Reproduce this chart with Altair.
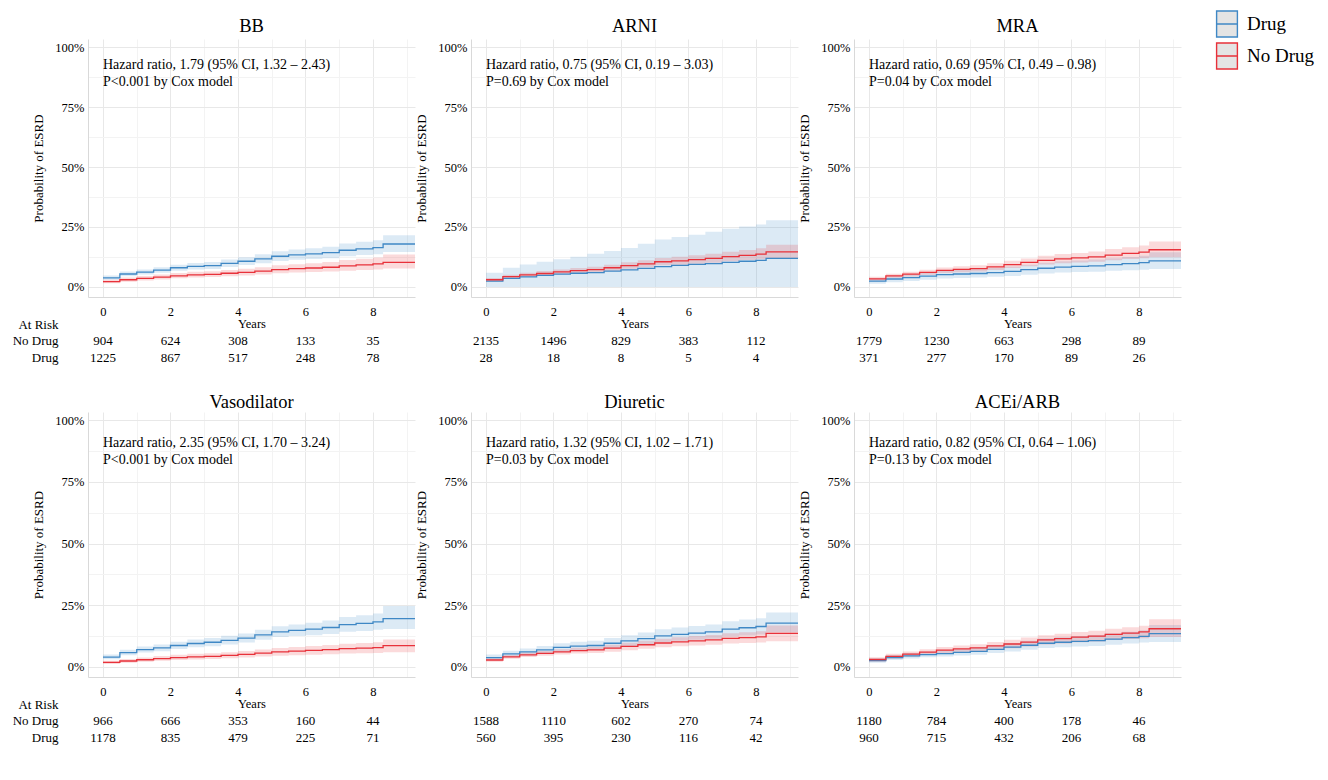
import altair as alt
import pandas as pd

FONT = "Liberation Serif"

# ---------------- data (cumulative probability of ESRD, in %) ----------------
T = [0, 0.5, 1, 1.5, 2, 2.5, 3, 3.5, 4, 4.5, 5, 5.5, 6, 6.5, 7, 7.5, 8, 8.3, 9.245]
GROUPS = ["Drug", "No Drug"]
COLORS = ["#3f88c5", "#e8313a"]
RISK_YEARS = [0, 2, 4, 6, 8]

# BB
bb_drug_est = [3.8, 5.4, 6.2, 7.0, 8.0, 8.6, 8.9, 9.8, 10.7, 11.7, 12.8, 13.4, 13.8, 14.3, 15.3, 15.9, 16.4, 17.9, 17.9]
bb_drug_lo = [3.0, 4.5, 5.2, 5.9, 6.8, 7.3, 7.5, 8.3, 9.1, 9.9, 10.8, 11.3, 11.6, 12.0, 12.8, 13.3, 13.6, 14.6, 14.6]
bb_drug_hi = [4.8, 6.4, 7.3, 8.2, 9.3, 10.0, 10.4, 11.4, 12.4, 13.6, 14.9, 15.6, 16.1, 16.8, 18.1, 18.8, 19.5, 21.6, 21.6]
bb_nod_est = [2.2, 3.0, 3.6, 4.1, 4.6, 5.0, 5.2, 5.7, 6.1, 6.6, 7.2, 7.6, 7.9, 8.2, 8.8, 9.2, 9.6, 10.2, 10.2]
bb_nod_lo = [1.5, 2.2, 2.7, 3.1, 3.6, 3.9, 4.1, 4.5, 4.8, 5.2, 5.7, 6.0, 6.2, 6.4, 6.8, 7.1, 7.3, 7.7, 7.7]
bb_nod_hi = [3.0, 3.9, 4.6, 5.2, 5.8, 6.3, 6.5, 7.1, 7.6, 8.2, 9.0, 9.5, 9.9, 10.4, 11.2, 11.8, 12.3, 13.5, 13.5]
bb_risk_nod = [904, 624, 308, 133, 35]
bb_risk_drug = [1225, 867, 517, 248, 78]

# ARNI
arni_drug_est = [2.4, 3.6, 4.2, 4.8, 5.3, 5.7, 6.0, 6.6, 7.1, 7.7, 8.5, 9.0, 9.4, 9.7, 10.2, 10.7, 11.1, 11.9, 11.9]
arni_drug_lo = [0.0, 0.0, 0.0, 0.0, 0.0, 0.0, 0.0, 0.0, 0.0, 0.0, 0.0, 0.0, 0.0, 0.0, 0.0, 0.0, 0.0, 0.0, 0.0]
arni_drug_hi = [5.9, 8.0, 9.4, 10.5, 11.5, 12.6, 13.8, 15.0, 16.2, 18.0, 19.8, 20.8, 21.8, 23.0, 24.3, 25.2, 26.0, 27.8, 27.8]
arni_nod_est = [3.0, 4.3, 5.0, 5.6, 6.3, 6.8, 7.2, 8.0, 8.9, 9.6, 10.5, 10.9, 11.4, 11.9, 12.6, 13.2, 13.7, 14.6, 14.6]
arni_nod_lo = [2.3, 3.5, 4.1, 4.7, 5.3, 5.7, 6.1, 6.8, 7.6, 8.2, 9.0, 9.3, 9.7, 10.1, 10.7, 11.2, 11.5, 12.0, 12.0]
arni_nod_hi = [3.7, 5.1, 5.9, 6.6, 7.3, 7.9, 8.4, 9.3, 10.3, 11.1, 12.1, 12.6, 13.2, 13.8, 14.7, 15.4, 16.1, 17.6, 17.6]
arni_risk_nod = [2135, 1496, 829, 383, 112]
arni_risk_drug = [28, 18, 8, 5, 4]

# MRA
mra_drug_est = [2.4, 3.3, 3.9, 4.5, 5.1, 5.4, 5.6, 6.0, 6.5, 7.2, 7.8, 8.3, 8.6, 8.8, 9.3, 9.7, 10.1, 10.9, 10.9]
mra_drug_lo = [1.3, 2.0, 2.5, 3.0, 3.5, 3.7, 3.9, 4.2, 4.6, 5.1, 5.6, 6.0, 6.2, 6.3, 6.7, 7.0, 7.2, 7.5, 7.5]
mra_drug_hi = [3.5, 4.6, 5.3, 6.0, 6.7, 7.1, 7.4, 7.9, 8.5, 9.3, 10.1, 10.7, 11.0, 11.4, 12.0, 12.5, 13.0, 14.5, 14.5]
mra_nod_est = [3.4, 4.6, 5.3, 6.1, 6.9, 7.3, 7.6, 8.4, 9.3, 10.2, 11.1, 11.7, 12.1, 12.5, 13.3, 14.0, 14.5, 15.5, 15.5]
mra_nod_lo = [2.7, 3.8, 4.4, 5.1, 5.8, 6.1, 6.4, 7.1, 7.9, 8.6, 9.4, 9.9, 10.2, 10.5, 11.1, 11.7, 12.0, 12.4, 12.4]
mra_nod_hi = [4.2, 5.5, 6.3, 7.2, 8.1, 8.6, 9.0, 9.9, 10.9, 11.9, 13.0, 13.7, 14.2, 14.8, 15.8, 16.6, 17.3, 18.9, 18.9]
mra_risk_nod = [1779, 1230, 663, 298, 89]
mra_risk_drug = [371, 277, 170, 89, 26]

# Vasodilator
vaso_drug_est = [3.9, 5.7, 6.9, 7.6, 8.6, 9.4, 9.9, 10.7, 11.6, 12.9, 14.1, 14.7, 15.2, 15.9, 17.1, 17.6, 18.2, 19.5, 19.5]
vaso_drug_lo = [3.0, 4.6, 5.7, 6.3, 7.2, 7.9, 8.3, 9.0, 9.8, 10.9, 12.0, 12.4, 12.8, 13.3, 14.2, 14.5, 15.0, 15.3, 15.3]
vaso_drug_hi = [4.9, 6.9, 8.2, 9.0, 10.1, 11.0, 11.6, 12.5, 13.5, 15.0, 16.4, 17.1, 17.8, 18.7, 20.2, 20.9, 21.6, 24.6, 24.6]
vaso_nod_est = [1.7, 2.3, 2.8, 3.3, 3.7, 4.0, 4.2, 4.6, 5.0, 5.5, 6.0, 6.3, 6.6, 6.9, 7.3, 7.5, 7.7, 8.5, 8.5]
vaso_nod_lo = [1.1, 1.6, 2.0, 2.4, 2.7, 2.9, 3.1, 3.4, 3.7, 4.1, 4.4, 4.6, 4.8, 5.0, 5.3, 5.4, 5.5, 5.9, 5.9]
vaso_nod_hi = [2.4, 3.1, 3.7, 4.3, 4.8, 5.2, 5.4, 5.9, 6.4, 7.0, 7.6, 8.0, 8.4, 8.8, 9.3, 9.6, 9.9, 11.0, 11.0]
vaso_risk_nod = [966, 666, 353, 160, 44]
vaso_risk_drug = [1178, 835, 479, 225, 71]

# Diuretic
diur_drug_est = [3.7, 5.2, 6.0, 6.8, 7.8, 8.3, 8.6, 9.5, 10.5, 11.4, 12.5, 13.1, 13.6, 14.1, 15.2, 15.8, 16.3, 17.7, 17.7]
diur_drug_lo = [2.6, 3.9, 4.6, 5.3, 6.1, 6.5, 6.8, 7.5, 8.3, 9.1, 10.0, 10.5, 10.9, 11.3, 12.2, 12.7, 13.1, 14.0, 14.0]
diur_drug_hi = [4.9, 6.5, 7.4, 8.4, 9.5, 10.1, 10.5, 11.6, 12.8, 13.9, 15.2, 15.9, 16.5, 17.1, 18.4, 19.1, 19.7, 22.0, 22.0]
diur_nod_est = [2.7, 4.0, 4.8, 5.4, 6.0, 6.5, 6.8, 7.5, 8.2, 8.9, 9.6, 10.1, 10.5, 10.9, 11.5, 11.8, 12.1, 13.5, 13.5]
diur_nod_lo = [2.0, 3.2, 3.9, 4.4, 4.9, 5.3, 5.5, 6.1, 6.7, 7.3, 7.9, 8.3, 8.6, 8.9, 9.4, 9.6, 9.8, 10.3, 10.3]
diur_nod_hi = [3.4, 4.8, 5.7, 6.4, 7.1, 7.7, 8.1, 8.9, 9.7, 10.5, 11.3, 11.9, 12.4, 12.9, 13.6, 14.0, 14.4, 16.7, 16.7]
diur_risk_nod = [1588, 1110, 602, 270, 74]
diur_risk_drug = [560, 395, 230, 116, 42]

# ACEi/ARB
acei_drug_est = [2.5, 3.7, 4.4, 4.9, 5.3, 5.8, 6.2, 7.0, 7.9, 8.7, 9.5, 9.9, 10.3, 10.6, 11.2, 11.8, 12.3, 13.4, 13.4]
acei_drug_lo = [1.6, 2.7, 3.3, 3.8, 4.1, 4.5, 4.8, 5.5, 6.2, 6.9, 7.6, 7.9, 8.2, 8.4, 8.9, 9.4, 9.8, 10.0, 10.0]
acei_drug_hi = [3.4, 4.7, 5.5, 6.1, 6.6, 7.2, 7.7, 8.6, 9.6, 10.5, 11.4, 11.9, 12.4, 12.8, 13.5, 14.2, 14.8, 16.9, 16.9]
acei_nod_est = [2.9, 4.2, 5.1, 5.9, 6.7, 7.2, 7.6, 8.4, 9.2, 10.0, 10.9, 11.4, 12.0, 12.4, 13.1, 13.6, 14.1, 15.4, 15.4]
acei_nod_lo = [2.0, 3.2, 4.0, 4.7, 5.4, 5.8, 6.2, 6.8, 7.5, 8.2, 9.0, 9.4, 9.9, 10.2, 10.8, 11.2, 11.5, 12.0, 12.0]
acei_nod_hi = [3.8, 5.2, 6.2, 7.1, 8.0, 8.6, 9.1, 10.0, 10.9, 11.8, 12.8, 13.4, 14.1, 14.6, 15.4, 16.0, 16.6, 19.2, 19.2]
acei_risk_nod = [1180, 784, 400, 178, 46]
acei_risk_drug = [960, 715, 432, 206, 68]

PANELS = [
    dict(name="BB", drug=(bb_drug_est, bb_drug_lo, bb_drug_hi), nod=(bb_nod_est, bb_nod_lo, bb_nod_hi),
         risk=(bb_risk_nod, bb_risk_drug),
         text=["Hazard ratio, 1.79 (95% CI, 1.32 \u2013 2.43)", "P<0.001 by Cox model"]),
    dict(name="ARNI", drug=(arni_drug_est, arni_drug_lo, arni_drug_hi), nod=(arni_nod_est, arni_nod_lo, arni_nod_hi),
         risk=(arni_risk_nod, arni_risk_drug),
         text=["Hazard ratio, 0.75 (95% CI, 0.19 \u2013 3.03)", "P=0.69 by Cox model"]),
    dict(name="MRA", drug=(mra_drug_est, mra_drug_lo, mra_drug_hi), nod=(mra_nod_est, mra_nod_lo, mra_nod_hi),
         risk=(mra_risk_nod, mra_risk_drug),
         text=["Hazard ratio, 0.69 (95% CI, 0.49 \u2013 0.98)", "P=0.04 by Cox model"]),
    dict(name="Vasodilator", drug=(vaso_drug_est, vaso_drug_lo, vaso_drug_hi), nod=(vaso_nod_est, vaso_nod_lo, vaso_nod_hi),
         risk=(vaso_risk_nod, vaso_risk_drug),
         text=["Hazard ratio, 2.35 (95% CI, 1.70 \u2013 3.24)", "P<0.001 by Cox model"]),
    dict(name="Diuretic", drug=(diur_drug_est, diur_drug_lo, diur_drug_hi), nod=(diur_nod_est, diur_nod_lo, diur_nod_hi),
         risk=(diur_risk_nod, diur_risk_drug),
         text=["Hazard ratio, 1.32 (95% CI, 1.02 \u2013 1.71)", "P=0.03 by Cox model"]),
    dict(name="ACEi/ARB", drug=(acei_drug_est, acei_drug_lo, acei_drug_hi), nod=(acei_nod_est, acei_nod_lo, acei_nod_hi),
         risk=(acei_risk_nod, acei_risk_drug),
         text=["Hazard ratio, 0.82 (95% CI, 0.64 \u2013 1.06)", "P=0.13 by Cox model"]),
]

TEXT_Y = [[0.925, 0.854], [0.910, 0.838]]
TITLE_OFFSET = [4, 1]

# ---------------- layout ----------------
W = 327
ROW_H = [258, 265]
XDOM = [-0.444, 9.245]
YDOM = [-0.042, 1.034]

cscale = alt.Scale(domain=GROUPS, range=COLORS)
legend = alt.Legend(
    title=None, orient="none", legendX=1125, legendY=-29,
    symbolType="M-0.8,-1H0.8V1H-0.8Z M-0.8,0H0.8", symbolSize=676,
    symbolFillColor="#e4e4e4", symbolStrokeWidth=1.4, symbolOpacity=1,
    labelFont=FONT, labelFontSize=19, labelColor="black", labelOffset=6,
    rowPadding=0,
)

xaxis = alt.Axis(
    values=list(range(10)), format="d",
    labelExpr="datum.value % 2 === 0 ? datum.label : ''",
    title="Years", labelFontSize=12.5, titleFontSize=12.5, labelPadding=8, titlePadding=0,
    ticks=False, domainColor="#d9d9d9",
    gridColor=alt.ConditionalAxisColor(condition={"test": "datum.value % 2 === 0", "value": "#e8e8e8"}, value="#f3f3f3"),
)
yaxis = alt.Axis(
    values=[i / 8 for i in range(9)], format=".0%",
    labelExpr="(datum.value * 4) % 1 === 0 ? datum.label : ''",
    title="Probability of ESRD", labelFontSize=12.5, titleFontSize=13, labelPadding=4, titlePadding=9,
    ticks=False, domainColor="#d9d9d9",
    gridColor=alt.ConditionalAxisColor(condition={"test": "(datum.value * 4) % 1 === 0", "value": "#e8e8e8"}, value="#f3f3f3"),
)


def km_frame(p):
    rows = []
    for g, (est, lo, hi) in zip(GROUPS, [p["drug"], p["nod"]]):
        for t, e, l, h in zip(T, est, lo, hi):
            rows.append({"t": t, "group": g, "est": e / 100, "lo": l / 100, "hi": h / 100})
    return pd.DataFrame(rows)


def panel(p, row, first_col):
    df = km_frame(p)
    xs = alt.Scale(domain=XDOM, nice=False, zero=False)
    ys = alt.Scale(domain=YDOM, nice=False, zero=False)
    base = alt.Chart(df)
    bands = [
        base.transform_filter(alt.datum.group == g).mark_area(
            interpolate="step-after", fillOpacity=0.18, clip=True, color=c
        ).encode(
            x=alt.X("t:Q", scale=xs, axis=xaxis),
            y=alt.Y("lo:Q", scale=ys, axis=yaxis),
            y2="hi:Q",
        )
        for g, c in zip(GROUPS, COLORS)
    ]
    line = base.mark_line(interpolate="step-after", strokeWidth=1.3, clip=True).encode(
        x=alt.X("t:Q", scale=xs, axis=xaxis),
        y=alt.Y("est:Q", scale=ys, axis=yaxis),
        color=alt.Color("group:N", scale=cscale, legend=legend),
    )
    ann = pd.DataFrame({"t": [0, 0], "y": TEXT_Y[row], "label": p["text"]})
    text = alt.Chart(ann).mark_text(align="left", baseline="middle", fontSize=14, font=FONT, color="black").encode(
        x=alt.X("t:Q", scale=xs, axis=xaxis),
        y=alt.Y("y:Q", scale=ys, axis=yaxis),
        text="label:N",
    )
    km = alt.layer(*bands, line, text).properties(
        width=W, height=ROW_H[row],
        title=alt.TitleParams(p["name"], font=FONT, fontSize=18.5, fontWeight=400, color="black",
                              anchor="middle", offset=TITLE_OFFSET[row]),
    )

    nod, drug = p["risk"]
    rt = pd.DataFrame({"t": RISK_YEARS * 2, "grp": ["No Drug"] * 5 + ["Drug"] * 5, "n": nod + drug})
    if first_col:
        raxis = alt.Axis(
            title="At Risk", titleAngle=0, titleAlign="right", titleBaseline="middle",
            titleX=-30, titleY=-8, titleFontSize=13, titleFontWeight="normal",
            labelFontSize=13, labelPadding=30, ticks=False, domain=False, grid=False,
        )
    else:
        raxis = None
    table = alt.Chart(rt).mark_text(fontSize=13, font=FONT, color="black").encode(
        x=alt.X("t:Q", scale=alt.Scale(domain=XDOM, nice=False, zero=False), axis=None),
        y=alt.Y("grp:N", scale=alt.Scale(type="point", domain=["No Drug", "Drug"], padding=0.5), axis=raxis),
        text=alt.Text("n:Q", format="d"),
    ).properties(width=W, height=34)
    return alt.vconcat(km, table, spacing=35, bounds="flush")


row1 = alt.hconcat(*[panel(PANELS[i], 0, i == 0) for i in range(3)], spacing=0)
row2 = alt.hconcat(*[panel(PANELS[i], 1, i == 3) for i in range(3, 6)], spacing=0)

chart = alt.vconcat(row1, row2, spacing=26).properties(
    padding={"left": 4, "top": 2, "right": 0, "bottom": 5}
).configure_view(stroke=None).configure_axis(
    labelFont=FONT, titleFont=FONT, labelColor="black", titleColor="black", titleFontWeight="normal"
).configure_title(font=FONT, fontSize=18.5, fontWeight=400, color="black")

chart.save("out.html", embed_options={"renderer": "svg", "actions": False})
